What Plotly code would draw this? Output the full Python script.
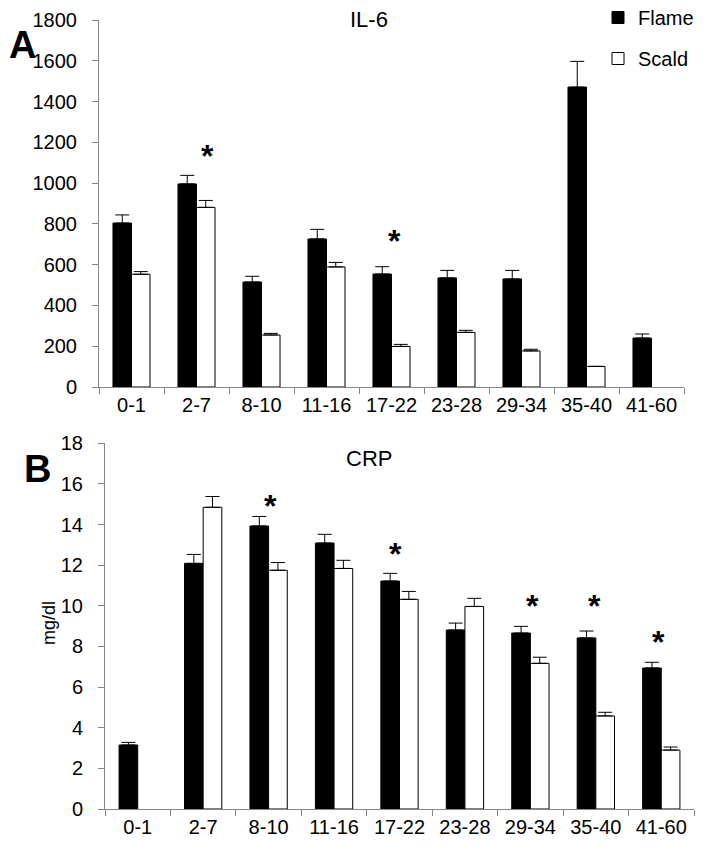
import plotly.graph_objects as go

# ---------------- data ----------------
age_groups = ["0-1", "2-7", "8-10", "11-16", "17-22", "23-28", "29-34", "35-40", "41-60"]

il6_flame = [804, 996, 515, 726, 554, 535, 530, 1471, 240]
il6_flame_err = [40, 42, 28, 47, 36, 37, 42, 126, 20]
il6_scald = [553, 881, 255, 589, 199, 268, 177, 101, None]
il6_scald_err = [13, 34, 8, 22, 10, 10, 8, None, None]

crp_flame = [3.15, 12.09, 13.93, 13.09, 11.22, 8.81, 8.66, 8.42, 6.94]
crp_flame_err = [0.13, 0.44, 0.47, 0.43, 0.38, 0.34, 0.33, 0.34, 0.28]
crp_scald = [None, 14.85, 11.75, 11.84, 10.32, 9.97, 7.17, 4.58, 2.90]
crp_scald_err = [None, 0.53, 0.38, 0.40, 0.39, 0.40, 0.30, 0.18, 0.15]

# significance markers: (group, y position of the star, horizontal nudge px)
il6_sig = [("2-7", 1131, 11), ("17-22", 714, 3)]
crp_sig = [("8-10", 14.89, 2), ("17-22", 12.53, -4), ("29-34", 9.97, 2),
           ("35-40", 9.97, -1), ("41-60", 8.20, -3)]

FONT = "Arial, 'Liberation Sans', sans-serif"
AXIS_COLOR = "#868686"
W, H = 704, 849
PAGE_OFF = 8  # default page margin around the figure


def fx(px):
    """page pixel x -> paper fraction"""
    return (px - PAGE_OFF) / W


def fy(py):
    """page pixel y -> paper fraction"""
    return 1 - (py - PAGE_OFF) / H


def zeros_like(vals):
    return [0 if v is not None else None for v in vals]


fig = go.Figure()


def add_pair(xa, ya, flame, flame_err, scald, scald_err, show):
    fig.add_trace(go.Bar(
        x=age_groups, y=flame, name="Flame", xaxis=xa, yaxis=ya,
        marker=dict(color="black", line=dict(color="black", width=1)),
        error_y=dict(type="data", symmetric=False, array=flame_err,
                     arrayminus=zeros_like(flame_err), color="black",
                     thickness=1, width=7),
        showlegend=show, legendgroup="flame",
    ))
    fig.add_trace(go.Bar(
        x=age_groups, y=scald, name="Scald", xaxis=xa, yaxis=ya,
        marker=dict(color="white", line=dict(color="black", width=1)),
        error_y=dict(type="data", symmetric=False, array=scald_err,
                     arrayminus=zeros_like(scald_err), color="black",
                     thickness=1, width=7),
        showlegend=show, legendgroup="scald",
    ))


add_pair("x", "y", il6_flame, il6_flame_err, il6_scald, il6_scald_err, True)
add_pair("x2", "y2", crp_flame, crp_flame_err, crp_scald, crp_scald_err, False)

STAR_FONT = dict(family=FONT, size=32, color="black")
annotations = []
for g, yv, dx in il6_sig:
    annotations.append(dict(x=g, y=yv, xref="x", yref="y", text="<b>*</b>",
                            showarrow=False, xshift=dx, xanchor="center",
                            yanchor="middle", font=STAR_FONT))
for g, yv, dx in crp_sig:
    annotations.append(dict(x=g, y=yv, xref="x2", yref="y2", text="<b>*</b>",
                            showarrow=False, xshift=dx, xanchor="center",
                            yanchor="middle", font=STAR_FONT))


def paper_text(px, py, text, size, angle=0):
    return dict(x=fx(px), y=fy(py), xref="paper", yref="paper", text=text,
                showarrow=False, xanchor="center", yanchor="middle",
                textangle=angle,
                font=dict(family=FONT, size=size, color="black"))


# chart titles, panel letters, unit label
annotations += [
    paper_text(369, 20, "IL-6", 22),
    paper_text(369, 458, "CRP", 22),
    paper_text(23, 45, "<b>A</b>", 38),
    paper_text(37, 469, "<b>B</b>", 38),
    paper_text(49, 623, "mg/dl", 18, -90),
]

xcommon = dict(type="category", showgrid=False, zeroline=False, showline=True,
               linecolor=AXIS_COLOR, linewidth=1, ticks="outside",
               tickson="boundaries", ticklen=6, tickcolor=AXIS_COLOR,
               automargin=False,
               tickfont=dict(family=FONT, size=20, color="black"),
               categoryorder="array", categoryarray=age_groups)
ycommon = dict(showgrid=False, zeroline=False, showline=True,
               linecolor=AXIS_COLOR, linewidth=1, ticks="outside", ticklen=6,
               tickcolor=AXIS_COLOR, ticklabelstandoff=11, automargin=False,
               tickfont=dict(family=FONT, size=20, color="black"))

fig.update_layout(
    template="none",
    width=W, height=H, autosize=False,
    margin=dict(l=0, r=0, t=0, b=0, pad=0, autoexpand=False),
    paper_bgcolor="white", plot_bgcolor="white",
    barmode="group", bargap=0.43, bargroupgap=0,
    font=dict(family=FONT, color="black"),
    xaxis=dict(domain=[fx(99), fx(684)], anchor="y", **xcommon),
    yaxis=dict(domain=[fy(387), fy(20)], anchor="x", range=[0, 1800],
               dtick=200, **ycommon),
    xaxis2=dict(domain=[fx(105), fx(694)], anchor="y2", **xcommon),
    yaxis2=dict(domain=[fy(809), fy(443.3)], anchor="x2", range=[0, 18],
                dtick=2, **ycommon),
    legend=dict(x=fx(598), y=fy(-2), xanchor="left", yanchor="top",
                bgcolor="rgba(0,0,0,0)", borderwidth=0, tracegroupgap=12,
                itemwidth=30,
                font=dict(family=FONT, size=20, color="black")),
    annotations=annotations,
)

fig.write_html("out.html")
